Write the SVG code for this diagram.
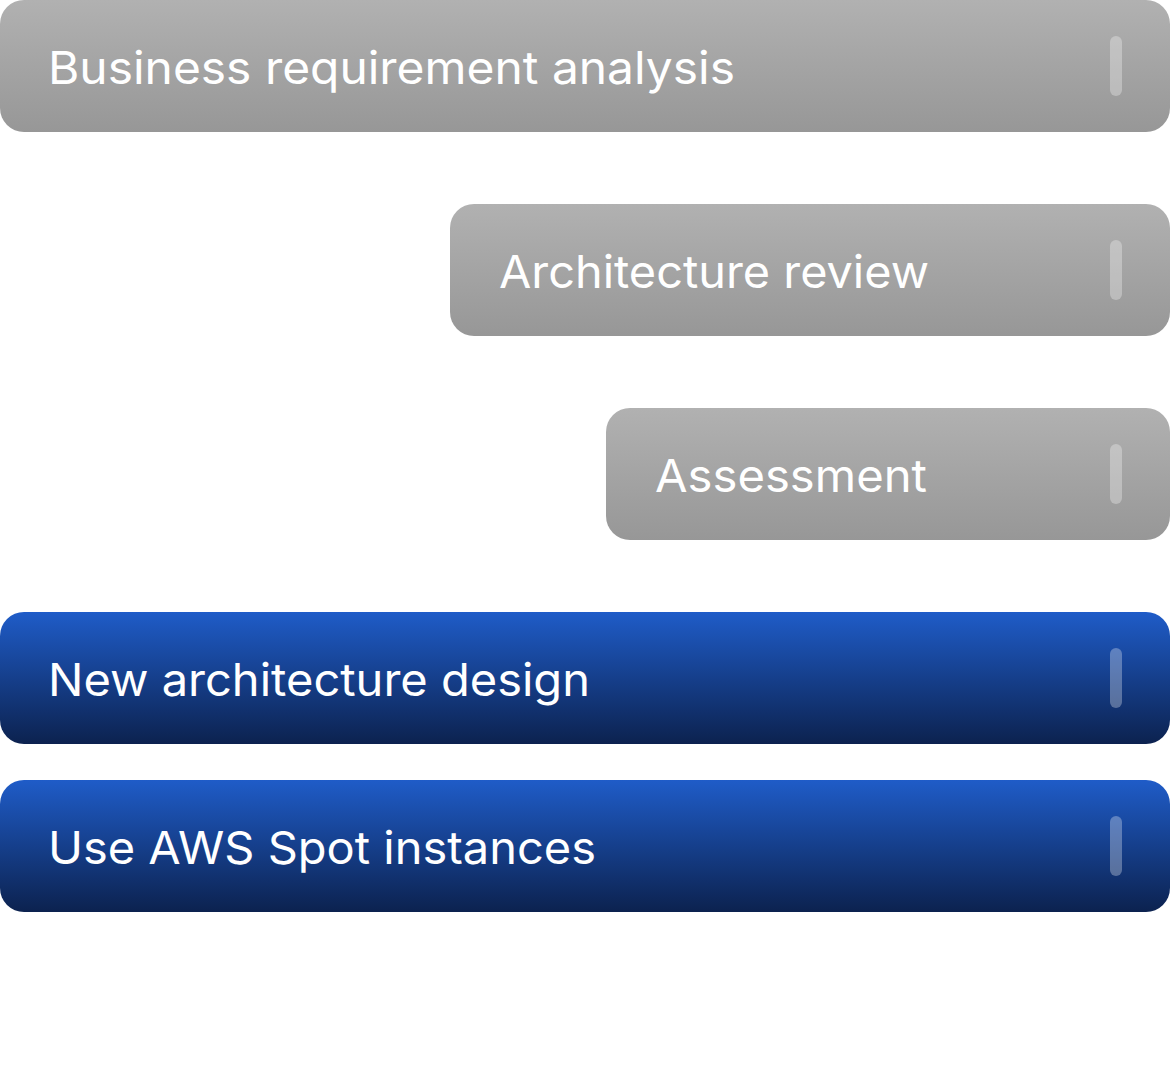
<svg xmlns="http://www.w3.org/2000/svg" width="1170" height="1080" viewBox="0 0 1170 1080">
<defs>
<linearGradient id="grey" x1="0" y1="0" x2="0" y2="1">
<stop offset="0" stop-color="#b1b1b1"/>
<stop offset="1" stop-color="#979797"/>
</linearGradient>
<linearGradient id="blue" x1="0" y1="0" x2="0" y2="1">
<stop offset="0" stop-color="#1f5cc8"/>
<stop offset="1" stop-color="#0c224f"/>
</linearGradient>
<style>
.box-g{fill:url(#grey)}
.box-b{fill:url(#blue)}
.lbl{font-family:"Inter","Noto Sans",sans-serif;font-size:45px;fill:#ffffff}
.hg{fill:#ffffff;fill-opacity:0.3}
.hb{fill:#ffffff;fill-opacity:0.3}
</style>
</defs>
<rect width="1170" height="1080" fill="#ffffff"/>
<g id="connectors"/>
<g id="node-business">
<rect class="box-g" x="0" y="0" width="1170" height="132" rx="24"/>
<text class="lbl" x="48" y="84" textLength="687" lengthAdjust="spacingAndGlyphs">Business requirement analysis</text>
<rect class="hg" x="1110" y="36" width="12" height="60" rx="6"/>
</g>
<g id="node-architecture-review">
<rect class="box-g" x="450" y="204" width="720" height="132" rx="24"/>
<text class="lbl" x="499" y="288" textLength="430" lengthAdjust="spacingAndGlyphs">Architecture review</text>
<rect class="hg" x="1110" y="240" width="12" height="60" rx="6"/>
</g>
<g id="node-assessment">
<rect class="box-g" x="606" y="408" width="564" height="132" rx="24"/>
<text class="lbl" x="655" y="492" textLength="272" lengthAdjust="spacingAndGlyphs">Assessment</text>
<rect class="hg" x="1110" y="444" width="12" height="60" rx="6"/>
</g>
<g id="node-new-architecture">
<rect class="box-b" x="0" y="612" width="1170" height="132" rx="24"/>
<text class="lbl" x="48" y="696" textLength="542" lengthAdjust="spacingAndGlyphs">New architecture design</text>
<rect class="hb" x="1110" y="648" width="12" height="60" rx="6"/>
</g>
<g id="node-spot">
<rect class="box-b" x="0" y="780" width="1170" height="132" rx="24"/>
<text class="lbl" x="48" y="864" textLength="548" lengthAdjust="spacingAndGlyphs">Use AWS Spot instances</text>
<rect class="hb" x="1110" y="816" width="12" height="60" rx="6"/>
</g>
</svg>
